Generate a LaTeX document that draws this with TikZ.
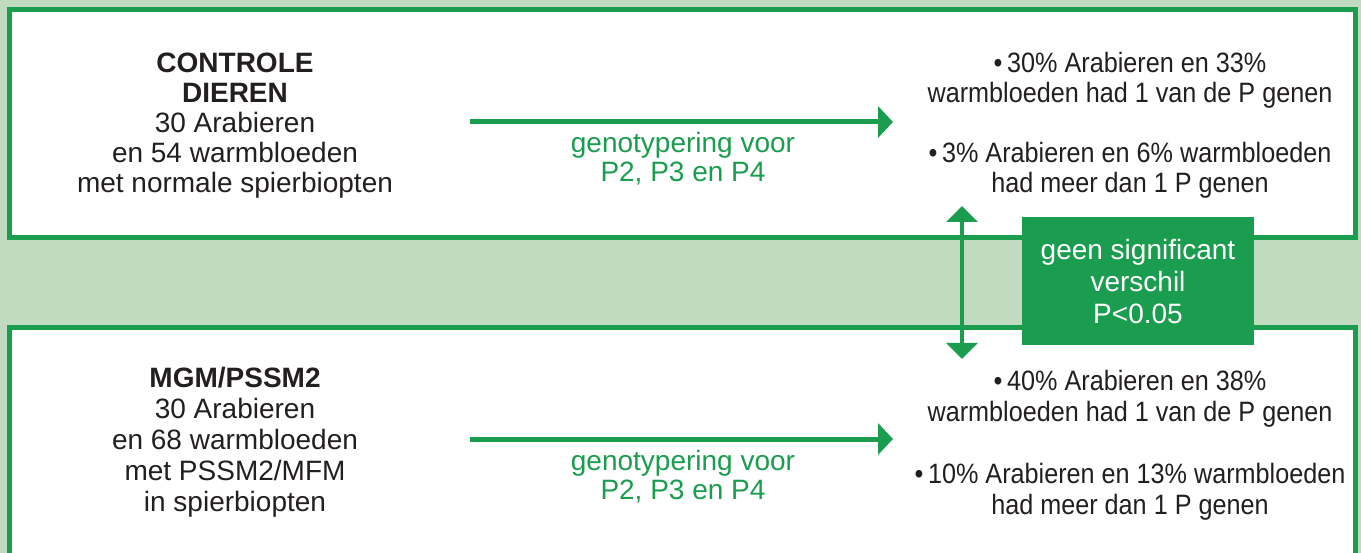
\documentclass[tikz,border=0pt]{standalone}
\usepackage{fontspec}
\setmainfont{Liberation Sans}
\newfontfamily\condfont[FakeStretch=0.9]{Liberation Sans}
\usetikzlibrary{arrows.meta}
\definecolor{dgreen}{HTML}{1A9D4E}
\definecolor{lgreen}{HTML}{C0DBBF}
\definecolor{ink}{HTML}{231F20}
\begin{document}
\begin{tikzpicture}[x=1pt,y=-1pt,
  panel/.style={draw=dgreen,line width=5pt,fill=white},
  txt/.style={inner sep=0pt,align=center,text=ink,anchor=base,font=\fontsize{28}{30}\selectfont},
  txtb/.style={txt,font=\fontsize{28}{31}\selectfont},
  rtxt/.style={txt,font=\condfont\fontsize{28}{30}\selectfont},
  rtxtb/.style={txt,font=\condfont\fontsize{28}{31}\selectfont},
  gtxt/.style={inner sep=0pt,align=center,text=dgreen,anchor=base,font=\fontsize{28}{29}\selectfont},
  flow/.style={draw=dgreen,line width=5pt,-{Triangle[width=31pt,length=15pt]}},
  both/.style={draw=dgreen,line width=4pt,{Triangle[width=31pt,length=16pt]}-{Triangle[width=31pt,length=16pt]}},
  sigbox/.style={fill=dgreen,text=white,inner sep=0pt,minimum width=232pt,minimum height=128pt,align=center,font=\fontsize{28}{32}\selectfont}
]
\useasboundingbox (0,0) rectangle (1361,553);
\clip (0,0) rectangle (1361,553);
\fill[lgreen] (0,0) rectangle (1361,553);
\draw[panel] (9.5,9.5) rectangle (1355.5,237.5);
\draw[panel] (9.5,327.5) rectangle (1355.5,600);

% top panel (anchor = baseline of last line)
\node[txt] (ctrl) at (235,193) {\textbf{CONTROLE}\\\textbf{DIEREN}\\30 Arabieren\\en 54 warmbloeden\\met normale spierbiopten};
\node[rtxt] (ctrlres) at (1130,193) {•\,30\% Arabieren en 33\%\\warmbloeden had 1 van de P genen\\[30pt]•\,3\% Arabieren en 6\% warmbloeden\\had meer dan 1 P genen};
\coordinate (a1s) at (470,122);
\coordinate (a1e) at (893,122);
\draw[flow] (a1s) -- (a1e);
\node[gtxt] (g1) at (683,182) {genotypering voor\\P2, P3 en P4};

% bottom panel
\node[txtb] (mgm) at (235,511) {\textbf{MGM/PSSM2}\\30 Arabieren\\en 68 warmbloeden\\met PSSM2/MFM\\in spierbiopten};
\node[rtxtb] (mgmres) at (1130,514) {•\,40\% Arabieren en 38\%\\warmbloeden had 1 van de P genen\\[31pt]•\,10\% Arabieren en 13\% warmbloeden\\had meer dan 1 P genen};
\coordinate (a2s) at (470,439);
\coordinate (a2e) at (893,439);
\draw[flow] (a2s) -- (a2e);
\node[gtxt] (g2) at (683,499) {genotypering voor\\P2, P3 en P4};

% comparison
\coordinate (up) at (962,206);
\coordinate (dn) at (962,359);
\draw[both] (up) -- (dn);
\node[sigbox] (sig) at (1138,281) {geen significant\\verschil\\P<0.05};
\end{tikzpicture}
\end{document}
